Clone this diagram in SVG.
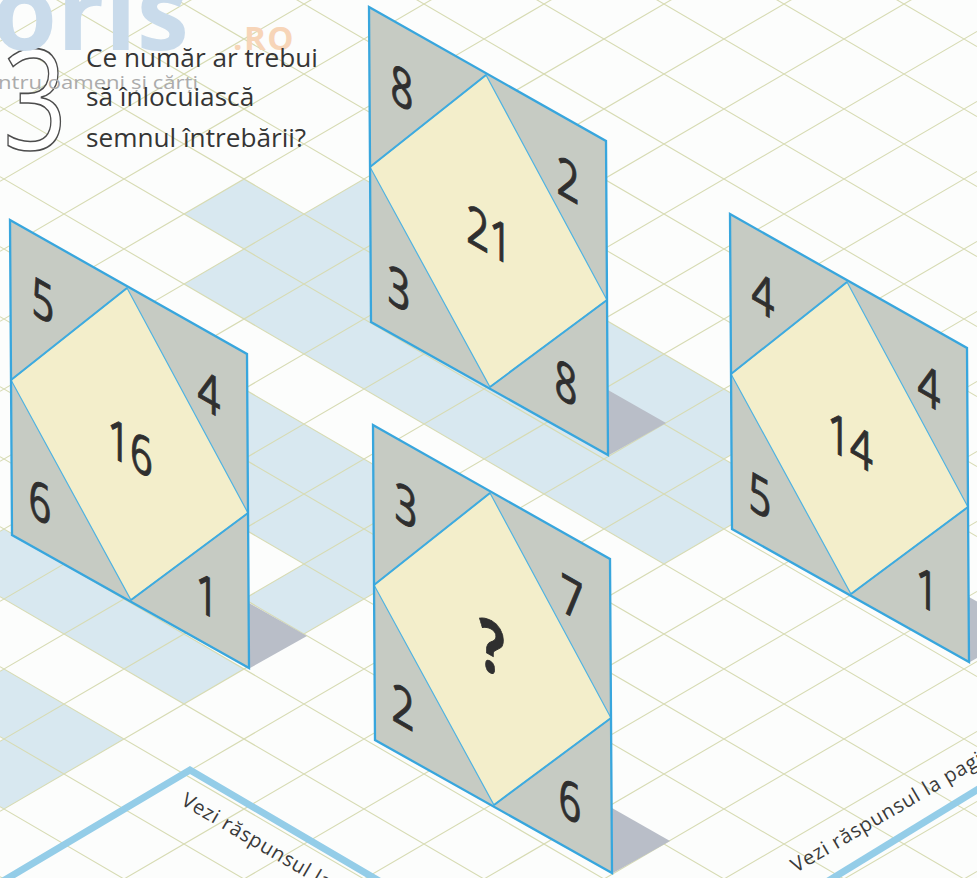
<svg xmlns="http://www.w3.org/2000/svg" xmlns:xlink="http://www.w3.org/1999/xlink" width="977" height="878" viewBox="0 0 977 878">
<style>
.grid{fill:none;stroke:#d7dbb3;stroke-width:1.1}
.tile{fill:#d8e8f0}
.pg{fill:#c6cbc3}
.py{fill:#f3eecb;stroke:#4fb3e2;stroke-width:1.2}
.pe{fill:none;stroke:#3fabdf;stroke-width:2}
.po{fill:none;stroke:#38a6dd;stroke-width:2.3;stroke-linejoin:miter}
.sh{fill:#b9bec8}
.num{font-family:"Open Sans","Liberation Sans",sans-serif;font-size:54px;fill:#2f2f2f;stroke:#2f2f2f;stroke-width:0.9;text-anchor:middle}
.qm{font-weight:700;font-size:72px}
.q{font-family:"Open Sans","Liberation Sans",sans-serif;font-size:26.2px;fill:#353535}
.big{font-family:"Open Sans","Liberation Sans",sans-serif;font-size:140px;fill:#ffffff;stroke:#4d4d4d;stroke-width:1.6}
.wm{font-family:"Open Sans","Liberation Sans",sans-serif;font-weight:700}
.box{fill:none;stroke:#94cde8;stroke-width:7}
.vz{font-family:"Open Sans","Liberation Sans",sans-serif;font-size:20px;fill:#3a3a3a;letter-spacing:0.8px}
</style>
<defs>
<g id="panelShape">
<polygon class="sh" points="249,603 307,636 250,668"/>
<polygon class="pg" points="10,220 247,354 249,668 12,535"/>
<polygon class="py" points="127,288 248,513 131,600 11,380"/>
<path class="pe" d="M127,288 L11,380 M248,513 L131,600"/>
<polygon class="po" points="10,220 247,354 249,668 12,535"/>
</g>
</defs>
<rect x="0" y="0" width="977" height="878" fill="#fcfdfc"/>
<g id="floor-tiles">
<path class="tile" d="M304 214 l60 -35 l60 35 l-60 35z M364 249 l60 -35 l60 35 l-60 35z M424 284 l60 -35 l60 35 l-60 35z M484 319 l60 -35 l60 35 l-60 35z M544 354 l60 -35 l60 35 l-60 35z M604 389 l60 -35 l60 35 l-60 35z M664 424 l60 -35 l60 35 l-60 35z
M184 214 l60 -35 l60 35 l-60 35z M244 249 l60 -35 l60 35 l-60 35z M304 284 l60 -35 l60 35 l-60 35z M364 319 l60 -35 l60 35 l-60 35z M424 354 l60 -35 l60 35 l-60 35z M484 389 l60 -35 l60 35 l-60 35z M544 424 l60 -35 l60 35 l-60 35z M604 459 l60 -35 l60 35 l-60 35z M664 494 l60 -35 l60 35 l-60 35z
M184 284 l60 -35 l60 35 l-60 35z M244 319 l60 -35 l60 35 l-60 35z M304 354 l60 -35 l60 35 l-60 35z M364 389 l60 -35 l60 35 l-60 35z M424 424 l60 -35 l60 35 l-60 35z M484 459 l60 -35 l60 35 l-60 35z M544 494 l60 -35 l60 35 l-60 35z M604 529 l60 -35 l60 35 l-60 35z
M184 424 l60 -35 l60 35 l-60 35z M244 459 l60 -35 l60 35 l-60 35z M304 494 l60 -35 l60 35 l-60 35z M364 529 l60 -35 l60 35 l-60 35z
M184 494 l60 -35 l60 35 l-60 35z M244 529 l60 -35 l60 35 l-60 35z M304 564 l60 -35 l60 35 l-60 35z
M244 599 l60 -35 l60 35 l-60 35z
M-56 564 l60 -35 l60 35 l-60 35z M4 599 l60 -35 l60 35 l-60 35z M64 634 l60 -35 l60 35 l-60 35z M124 669 l60 -35 l60 35 l-60 35z
M-56 704 l60 -35 l60 35 l-60 35z M4 739 l60 -35 l60 35 l-60 35z M-56 774 l60 -35 l60 35 l-60 35z"/>
</g>
<g id="floor-grid">
<path class="grid" d="M0 -523.33 l977 569.92 M0 -453.33 l977 569.92 M0 -383.33 l977 569.92 M0 -313.33 l977 569.92 M0 -243.33 l977 569.92 M0 -173.33 l977 569.92 M0 -103.33 l977 569.92 M0 -33.33 l977 569.92 M0 36.67 l977 569.92 M0 106.67 l977 569.92 M0 176.67 l977 569.92 M0 246.67 l977 569.92 M0 316.67 l977 569.92 M0 386.67 l977 569.92 M0 456.67 l977 569.92 M0 526.67 l977 569.92 M0 596.67 l977 569.92 M0 666.67 l977 569.92 M0 736.67 l977 569.92 M0 806.67 l977 569.92 M0 876.67 l977 569.92
M0 41.33 l977 -569.92 M0 111.33 l977 -569.92 M0 181.33 l977 -569.92 M0 251.33 l977 -569.92 M0 321.33 l977 -569.92 M0 391.33 l977 -569.92 M0 461.33 l977 -569.92 M0 531.33 l977 -569.92 M0 601.33 l977 -569.92 M0 671.33 l977 -569.92 M0 741.33 l977 -569.92 M0 811.33 l977 -569.92 M0 881.33 l977 -569.92 M0 951.33 l977 -569.92 M0 1021.33 l977 -569.92 M0 1091.33 l977 -569.92 M0 1161.33 l977 -569.92 M0 1231.33 l977 -569.92 M0 1301.33 l977 -569.92 M0 1371.33 l977 -569.92 M0 1441.33 l977 -569.92"/>
</g>
<g id="answer-boxes">
<polyline class="box" points="-2,884 190,770 386,885"/>
<polyline class="box" points="820,886 990,782"/>
<text class="vz" transform="translate(180,804) rotate(30.3)">Vezi răspunsul la</text>
<text class="vz" transform="translate(796,873) rotate(-30.3)">Vezi răspunsul la pagi</text>
</g>
<g id="title">
<text class="big" transform="translate(3,150) scale(0.8,1)" x="0" y="0">3</text>
<text class="wm" x="-8" y="50" font-size="105" fill="#c9dbeb">oris</text>
<text class="wm" x="233" y="50" font-size="33" fill="#f7d5b8" letter-spacing="1.5">.RO</text>
<text x="-2" y="89" font-family="Open Sans, Liberation Sans, sans-serif" font-size="19" fill="#ababab" textLength="200" lengthAdjust="spacingAndGlyphs">ntru oameni și cărți</text>
<text class="q" x="86" y="67">Ce număr ar trebui</text>
<text class="q" x="86" y="106">să înlocuiască</text>
<text class="q" x="86" y="147">semnul întrebării?</text>
</g>
<g id="panel-21" transform="translate(359,-213)">
<use xlink:href="#panelShape" href="#panelShape"/>
<text class="num" transform="translate(43,301) skewY(29.5) scale(0.74,1)" y="19">8</text>
<text class="num" transform="translate(209,393) skewY(29.5) scale(0.74,1)" y="19">2</text>
<text class="num" transform="translate(130,448) skewY(29.5) scale(0.74,1)" y="19">21</text>
<text class="num" transform="translate(40,502) skewY(29.5) scale(0.74,1)" y="19">3</text>
<text class="num" transform="translate(207,596) skewY(29.5) scale(0.74,1)" y="19">8</text>
</g>
<g id="panel-16">
<use xlink:href="#panelShape" href="#panelShape"/>
<text class="num" transform="translate(43,301) skewY(29.5) scale(0.74,1)" y="19">5</text>
<text class="num" transform="translate(209,393) skewY(29.5) scale(0.74,1)" y="19">4</text>
<text class="num" transform="translate(130,448) skewY(29.5) scale(0.74,1)" y="19">16</text>
<text class="num" transform="translate(40,502) skewY(29.5) scale(0.74,1)" y="19">6</text>
<text class="num" transform="translate(207,596) skewY(29.5) scale(0.74,1)" y="19">1</text>
</g>
<g id="panel-14" transform="translate(720,-6)">
<use xlink:href="#panelShape" href="#panelShape"/>
<text class="num" transform="translate(43,301) skewY(29.5) scale(0.74,1)" y="19">4</text>
<text class="num" transform="translate(209,393) skewY(29.5) scale(0.74,1)" y="19">4</text>
<text class="num" transform="translate(130,448) skewY(29.5) scale(0.74,1)" y="19">14</text>
<text class="num" transform="translate(40,502) skewY(29.5) scale(0.74,1)" y="19">5</text>
<text class="num" transform="translate(207,596) skewY(29.5) scale(0.74,1)" y="19">1</text>
</g>
<g id="panel-q" transform="translate(363,205)">
<use xlink:href="#panelShape" href="#panelShape"/>
<text class="num" transform="translate(43,301) skewY(29.5) scale(0.74,1)" y="19">3</text>
<text class="num" transform="translate(209,393) skewY(29.5) scale(0.74,1)" y="19">7</text>
<text class="num qm" transform="translate(129,442) skewY(29.5) scale(0.74,1)" y="26">?</text>
<text class="num" transform="translate(40,502) skewY(29.5) scale(0.74,1)" y="19">2</text>
<text class="num" transform="translate(207,596) skewY(29.5) scale(0.74,1)" y="19">6</text>
</g>
</svg>
